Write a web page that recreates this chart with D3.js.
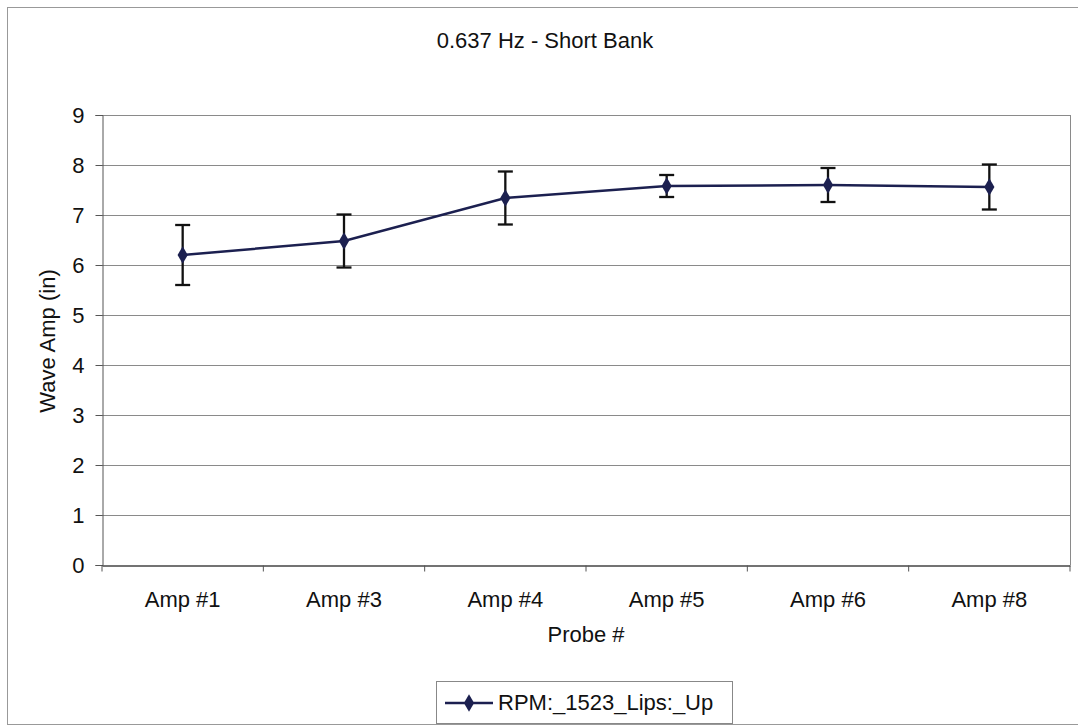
<!DOCTYPE html>
<html><head><meta charset="utf-8">
<script src="https://cdn.jsdelivr.net/npm/d3@7"></script>
<style>body{margin:0;background:#fff;} text{font-family:"Liberation Sans",Arial,sans-serif;fill:#111;}</style>
</head><body><svg id="c" width="1078" height="728"></svg>
<script>
const categories = ["Amp #1","Amp #3","Amp #4","Amp #5","Amp #6","Amp #8"];
const values = [6.2, 6.48, 7.34, 7.58, 7.6, 7.56];
const errors = [0.6, 0.53, 0.53, 0.22, 0.34, 0.45];
const yTicks = [0,1,2,3,4,5,6,7,8,9];
const seriesName = "RPM:_1523_Lips:_Up";
const title = "0.637 Hz - Short Bank";

const svg = d3.select("#c");
const L=102, R=1070, T=115, B=565;
const lineColor="#1c2050";
const FS="22px";

svg.append("rect").attr("x",7.5).attr("y",7.5).attr("width",1080).attr("height",717)
  .attr("fill","none").attr("stroke","#999").attr("stroke-width",1);

const x = d3.scaleBand().domain(categories).range([L,R]).padding(0);
const y = d3.scaleLinear().domain([0,9]).range([B,T]);

// gridlines
svg.append("g").selectAll("line").data(yTicks.filter(d=>d>0)).join("line")
  .attr("x1",L).attr("x2",R).attr("y1",d=>Math.round(y(d))+0.5).attr("y2",d=>Math.round(y(d))+0.5)
  .attr("stroke","#8a8a8a").attr("stroke-width",1);
svg.append("line").attr("x1",R+0.5).attr("x2",R+0.5).attr("y1",T).attr("y2",B).attr("stroke","#8a8a8a");

// y axis
const ya = svg.append("g").attr("transform",`translate(${L+0.5},0)`)
  .call(d3.axisLeft(y).tickValues(yTicks).tickSize(7).tickPadding(11).tickFormat(d3.format("d")));
ya.selectAll("text").style("font-size",FS).attr("fill","#111").attr("dy","0.36em");
ya.selectAll("line").attr("stroke","#555");
ya.select(".domain").attr("stroke","#555");

// x axis
const xa = svg.append("g").attr("transform",`translate(0,${B+0.5})`)
  .call(d3.axisBottom(x).tickSize(0));
xa.selectAll("text").style("font-size",FS).attr("fill","#111").attr("y",41).attr("dy",0);
xa.select(".domain").attr("stroke","#444").attr("stroke-width",1.3);
const bounds = categories.map(c=>x(c)).concat([R]);
xa.selectAll("line.bt").data(bounds).join("line").attr("class","bt")
  .attr("x1",d=>d).attr("x2",d=>d).attr("y1",0).attr("y2",6).attr("stroke","#555");

// axis titles
svg.append("text").attr("x",586).attr("y",642).attr("text-anchor","middle").style("font-size",FS).text("Probe #");
svg.append("text").attr("transform","translate(55,341) rotate(-90)").attr("text-anchor","middle").style("font-size",FS).text("Wave Amp (in)");
svg.append("text").attr("x",545).attr("y",48).attr("text-anchor","middle").style("font-size",FS).text(title);

const cx = c=>x(c)+x.bandwidth()/2;
const data = categories.map((c,i)=>({c,v:values[i],e:errors[i]}));

// line
svg.append("path").datum(data).attr("fill","none").attr("stroke",lineColor).attr("stroke-width",2.5)
  .attr("d",d3.line().x(d=>cx(d.c)).y(d=>y(d.v)));

// error bars
const eb = svg.append("g").selectAll("g").data(data).join("g");
eb.append("line").attr("x1",d=>cx(d.c)).attr("x2",d=>cx(d.c)).attr("y1",d=>y(d.v+d.e)).attr("y2",d=>y(d.v-d.e))
  .attr("stroke","#111").attr("stroke-width",2.3);
eb.append("line").attr("x1",d=>cx(d.c)-7.5).attr("x2",d=>cx(d.c)+7.5).attr("y1",d=>y(d.v+d.e)).attr("y2",d=>y(d.v+d.e))
  .attr("stroke","#111").attr("stroke-width",2.3);
eb.append("line").attr("x1",d=>cx(d.c)-7.5).attr("x2",d=>cx(d.c)+7.5).attr("y1",d=>y(d.v-d.e)).attr("y2",d=>y(d.v-d.e))
  .attr("stroke","#111").attr("stroke-width",2.3);

// markers
const diamond = d3.symbol().type(d3.symbolDiamond).size(90);
svg.append("g").selectAll("path").data(data).join("path")
  .attr("transform",d=>`translate(${cx(d.c)},${y(d.v)})`).attr("d",diamond).attr("fill",lineColor);

// legend
const lg = svg.append("g");
lg.append("rect").attr("x",436.5).attr("y",681.5).attr("width",296).attr("height",42)
  .attr("fill","#fff").attr("stroke","#888");
lg.append("line").attr("x1",445).attr("x2",493).attr("y1",703).attr("y2",703).attr("stroke",lineColor).attr("stroke-width",2.5);
lg.append("path").attr("transform","translate(469,703)").attr("d",diamond).attr("fill",lineColor);
lg.append("text").attr("x",498).attr("y",710).style("font-size",FS).text(seriesName);
</script></body></html>
